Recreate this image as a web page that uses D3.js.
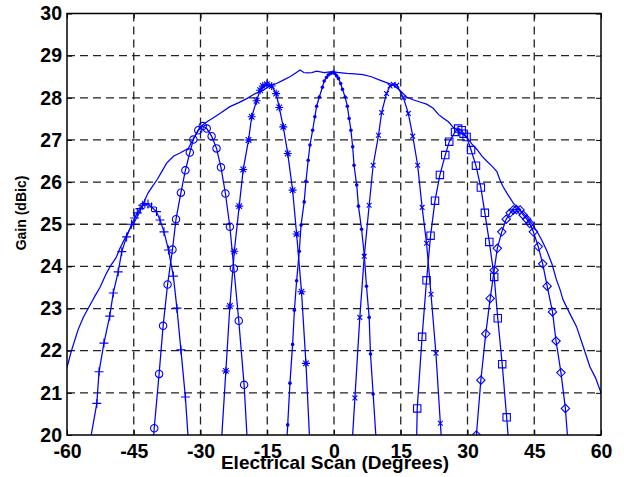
<!DOCTYPE html>
<html>
<head>
<meta charset="utf-8">
<title>gain scan</title>
<script src="https://d3js.org/d3.v7.min.js"></script>
<style>
  body { margin: 0; background: #fff; }
  text { font-family: "Liberation Sans", Arial, sans-serif; font-weight: bold; }
</style>
</head>
<body>
<svg width="624" height="477" id="mainsvg"></svg>
<script>
// tick labels
const xTicks = [-60, -45, -30, -15, 0, 15, 30, 45, 60];
const yTicks = [20, 21, 22, 23, 24, 25, 26, 27, 28, 29, 30];

// scan envelope (no markers)
const envX = [-60, -59, -57.5, -56.3, -55, -53.7, -52.6, -51.3, -50.3, -49, -48.1, -46.8, -45.8, -44.6, -43.6, -42.6, -41.8, -40.8, -39.8, -38.7, -37.6, -36, -34.6, -32.7, -31.5, -30.1, -28.7, -27.2, -25.3, -23.4, -21.5, -19.6, -17.7, -15.9, -14.4, -12.9, -11.4, -9.9, -8.7, -7.6, -6.8, -6.1, -5, -3.9, -2.2, -0.5, 1.2, 2.85, 4.6, 6.5, 8.4, 10.3, 11.8, 13.3, 14.8, 16.3, 17.6, 19.3, 20.8, 22.3, 23.5, 24.5, 25.7, 26.8, 28.3, 29.8, 31, 32.1, 33.2, 34.3, 35.5, 36.6, 37.3, 38, 39.2, 40.3, 41.8, 43.3, 44.4, 45.5, 46.7, 47.8, 49, 50, 50.8, 51.5, 53, 54.5, 56, 57.5, 58.8, 60];
const envY = [21.6, 22.0, 22.5, 22.8, 23.05, 23.3, 23.5, 23.8, 24.0, 24.2, 24.43, 24.7, 24.9, 25.1, 25.3, 25.55, 25.74, 25.9, 26.05, 26.25, 26.45, 26.62, 26.69, 26.8, 27.05, 27.31, 27.42, 27.52, 27.65, 27.79, 27.88, 27.98, 28.1, 28.18, 28.28, 28.34, 28.42, 28.5, 28.58, 28.66, 28.6, 28.59, 28.6, 28.63, 28.6, 28.62, 28.6, 28.58, 28.57, 28.55, 28.5, 28.42, 28.36, 28.3, 28.18, 28.02, 27.96, 27.9, 27.85, 27.75, 27.6, 27.52, 27.43, 27.3, 27.18, 27.07, 26.9, 26.78, 26.62, 26.5, 26.38, 26.25, 26.05, 25.89, 25.68, 25.5, 25.33, 25.18, 25.02, 24.85, 24.62, 24.38, 24.05, 23.68, 23.45, 23.2, 22.88, 22.57, 22.1, 21.62, 21.35, 21.0];

// beam at -42 deg (+)
const plusX = [-55.4, -53.3, -52.8, -51.7, -50.4, -49.6, -48.5, -47.7, -46.6, -45.5, -44.8, -44.2, -43.6, -43.0, -42.5, -41.8, -41.0, -39.9, -39.1, -38.2, -37.2, -36.1, -35.3, -34.4, -33.4, -32.5];
const plusY = [19.5, 20.75, 21.5, 22.18, 22.82, 23.37, 23.87, 24.35, 24.7, 25.0, 25.15, 25.27, 25.37, 25.45, 25.49, 25.48, 25.41, 25.3, 25.1, 24.82, 24.39, 23.77, 23.01, 22.02, 20.9, 19.5];

// beam at -30 deg (o)
const circX = [-40.9, -40.4, -39.3, -38.4, -37.4, -36.3, -35.5, -34.4, -33.4, -32.4, -31.6, -30.5, -29.5, -28.6, -27.5, -26.4, -25.4, -24.4, -23.4, -22.5, -21.4, -20.2, -19.3];
const circY = [19.5, 20.16, 21.45, 22.59, 23.57, 24.4, 25.12, 25.75, 26.28, 26.7, 27.01, 27.23, 27.33, 27.27, 27.09, 26.8, 26.35, 25.73, 24.94, 23.95, 22.71, 21.19, 19.5];

// beam at -15 deg (*)
const starX = [-25.5, -24.3, -23.4, -22.4, -21.3, -20.4, -19.2, -18.5, -17.4, -16.6, -16.0, -15.1, -14.0, -13.0, -12.3, -11.4, -10.4, -9.3, -8.4, -7.3, -6.3, -5.3];
const starY = [19.5, 21.52, 23.06, 24.36, 25.43, 26.3, 27.0, 27.55, 27.93, 28.18, 28.28, 28.32, 28.28, 28.1, 27.77, 27.31, 26.68, 25.81, 24.77, 23.4, 21.7, 19.5];

// beam at 0 deg (.)
const dotX = [-10.8, -10.4, -9.9, -9.3, -8.9, -8.4, -7.8, -7.4, -6.7, -6.3, -5.8, -5.4, -4.8, -4.3, -3.9, -3.3, -2.6, -2.2, -1.7, -1.3, -0.9, -0.5, -0.1, 0.2, 0.6, 1.0, 1.5, 1.9, 2.5, 3.0, 3.4, 3.8, 4.2, 4.5, 5.1, 5.5, 6.2, 6.8, 7.3, 7.9, 8.2, 8.8, 9.7];
const dotY = [19.5, 20.24, 21.23, 22.15, 22.96, 23.66, 24.36, 24.98, 25.53, 26.02, 26.52, 26.88, 27.23, 27.55, 27.8, 28.02, 28.25, 28.4, 28.48, 28.54, 28.57, 28.59, 28.61, 28.57, 28.52, 28.46, 28.34, 28.2, 28.02, 27.8, 27.51, 27.23, 26.84, 26.4, 25.93, 25.43, 24.88, 24.27, 23.53, 22.79, 21.92, 20.97, 19.5];

// beam at 15 deg (x)
const crossX = [3.9, 4.7, 5.8, 6.8, 7.9, 8.8, 10.0, 10.7, 11.8, 12.6, 13.3, 14.1, 15.6, 16.7, 17.7, 18.8, 19.8, 20.8, 21.8, 22.9, 23.9, 24.4];
const crossY = [19.5, 20.88, 22.79, 24.24, 25.45, 26.4, 27.11, 27.65, 28.1, 28.28, 28.32, 28.3, 28.0, 27.63, 27.09, 26.4, 25.4, 24.55, 23.34, 21.94, 20.28, 19.5];

// beam at 28 deg (square)
const sqX = [18.5, 18.7, 19.8, 20.8, 21.7, 22.7, 23.8, 25.0, 25.9, 27.2, 27.9, 28.7, 29.1, 29.8, 30.8, 31.9, 33.0, 33.9, 34.9, 36.0, 36.8, 37.8, 38.8, 39.5];
const sqY = [19.5, 20.63, 22.33, 23.67, 24.73, 25.56, 26.17, 26.64, 26.96, 27.19, 27.27, 27.23, 27.15, 27.07, 26.76, 26.39, 25.87, 25.27, 24.58, 23.75, 22.77, 21.68, 20.42, 19.5];

// beam at 41 deg (diamond)
const diaX = [31.8, 32.0, 33.0, 34.1, 35.1, 36.0, 36.7, 37.7, 38.7, 39.6, 40.3, 41.0, 41.8, 42.5, 43.3, 44.0, 44.8, 45.9, 46.9, 47.9, 49.1, 49.9, 51.0, 52.0, 52.8];
const diaY = [19.5, 20.0, 21.3, 22.4, 23.24, 23.91, 24.43, 24.82, 25.12, 25.27, 25.34, 25.35, 25.34, 25.22, 25.12, 25.02, 24.82, 24.47, 24.06, 23.53, 22.92, 22.23, 21.48, 20.63, 19.5];

let svg = d3.select('#mainsvg');
const mLeft = 67, mRight = 601, mTop = 13.5, mBottom = 435;
const blue = '#0000ff';

let x = d3.scaleLinear().domain([-60, 60]).range([mLeft, mRight]);
let y = d3.scaleLinear().domain([20, 30]).range([mBottom, mTop]);

svg.append('defs').append('clipPath').attr('id', 'plotclip')
  .append('rect').attr('x', mLeft).attr('y', mTop)
  .attr('width', mRight - mLeft).attr('height', mBottom - mTop);

// grid
let grid = svg.append('g');
grid.selectAll('.gx').data(xTicks.slice(1, -1)).enter().append('line')
  .attr('x1', d => x(d)).attr('x2', d => x(d))
  .attr('y1', mTop).attr('y2', mBottom);
grid.selectAll('.gy').data(yTicks.slice(1, -1)).enter().append('line')
  .attr('x1', mLeft).attr('x2', mRight)
  .attr('y1', d => y(d)).attr('y2', d => y(d));
grid.selectAll('line')
  .attr('stroke', '#222').attr('stroke-width', 1.3)
  .attr('stroke-dasharray', '8,5');

// axes with inward ticks on all four sides
const tk = 5;
const fmt = d => String(d);   // plain hyphen for negatives, like the original
svg.append('g').attr('transform', `translate(0,${mBottom})`)
  .call(d3.axisBottom(x).tickValues(xTicks).tickSize(-tk).tickPadding(9).tickFormat(fmt))
  .call(g => g.select('.domain').remove());
svg.append('g').attr('transform', `translate(0,${mTop})`)
  .call(d3.axisTop(x).tickValues(xTicks).tickSize(-tk).tickFormat(''))
  .call(g => g.select('.domain').remove());
svg.append('g').attr('transform', `translate(${mLeft},0)`)
  .call(d3.axisLeft(y).tickValues(yTicks).tickSize(-tk).tickPadding(5).tickFormat(fmt))
  .call(g => g.select('.domain').remove());
svg.append('g').attr('transform', `translate(${mRight},0)`)
  .call(d3.axisRight(y).tickValues(yTicks).tickSize(-tk).tickFormat(''))
  .call(g => g.select('.domain').remove());
svg.selectAll('.tick line').attr('stroke', '#000').attr('stroke-width', 1);
svg.selectAll('.tick text').attr('font-size', 19.5).attr('fill', '#000')
  .attr('font-family', '"Liberation Sans", Arial, sans-serif').attr('font-weight', 'bold');

// marker shapes
const markers = {
  plus: s => `M${-s},0H${s}M0,${-s}V${s}`,
  circle: s => `M${s},0A${s},${s} 0 1,1 ${-s},0A${s},${s} 0 1,1 ${s},0`,
  star: s => { const a = s * 0.7; return `M${-s},0H${s}M0,${-s}V${s}M${-a},${-a}L${a},${a}M${-a},${a}L${a},${-a}`; },
  cross: s => `M${-s},${-s}L${s},${s}M${-s},${s}L${s},${-s}`,
  square: s => `M${-s},${-s}H${s}V${s}H${-s}Z`,
  diamond: s => `M0,${-s}L${s},0L0,${s}L${-s},0Z`
};

const series = [
  { xs: envX, ys: envY, mk: null },
  { xs: plusX, ys: plusY, mk: 'plus', size: 4.5 },
  { xs: circX, ys: circY, mk: 'circle', size: 3.7 },
  { xs: starX, ys: starY, mk: 'star', size: 4 },
  { xs: dotX, ys: dotY, mk: 'dot', size: 1.8 },
  { xs: crossX, ys: crossY, mk: 'cross', size: 2.4 },
  { xs: sqX, ys: sqY, mk: 'square', size: 3.7 },
  { xs: diaX, ys: diaY, mk: 'diamond', size: 4.2 }
];

let plot = svg.append('g').attr('clip-path', 'url(#plotclip)');
const line = d3.line().x(d => x(d[0])).y(d => y(d[1]));

series.forEach(s => {
  const pts = s.xs.map((v, i) => [v, s.ys[i]]);
  plot.append('path').datum(pts)
    .attr('d', line).attr('fill', 'none')
    .attr('stroke', blue).attr('stroke-width', 1.25);
  if (!s.mk) return;
  if (s.mk === 'dot') {
    plot.selectAll(null).data(pts).enter().append('circle')
      .attr('cx', d => x(d[0])).attr('cy', d => y(d[1]))
      .attr('r', s.size).attr('fill', blue);
  } else {
    plot.selectAll(null).data(pts).enter().append('path')
      .attr('transform', d => `translate(${x(d[0])},${y(d[1])})`)
      .attr('d', markers[s.mk](s.size))
      .attr('fill', 'none').attr('stroke', blue).attr('stroke-width', 1.1);
  }
});

// frame
svg.append('rect').attr('x', mLeft).attr('y', mTop)
  .attr('width', mRight - mLeft).attr('height', mBottom - mTop)
  .attr('fill', 'none').attr('stroke', '#000').attr('stroke-width', 1.5);

// axis titles
svg.append('text').attr('x', 335).attr('y', 469)
  .attr('text-anchor', 'middle').attr('font-size', 19)
  .text('Electrical Scan (Degrees)');
svg.append('text').attr('transform', 'translate(26,213) rotate(-90)')
  .attr('text-anchor', 'middle').attr('font-size', 14)
  .text('Gain (dBic)');
</script>
</body>
</html>
